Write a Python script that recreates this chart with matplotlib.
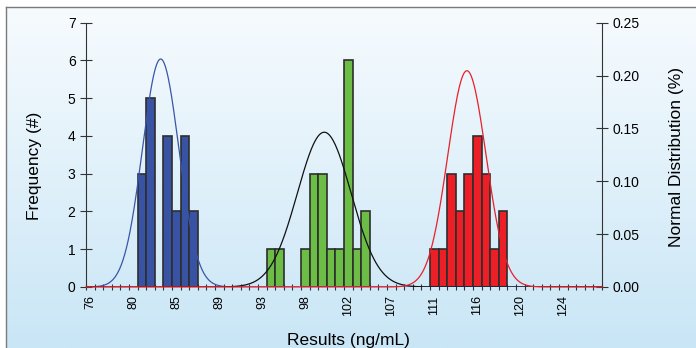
import numpy as np
import matplotlib
matplotlib.use('Agg')
import matplotlib.pyplot as plt
from matplotlib.colors import LinearSegmentedColormap
from matplotlib.lines import Line2D

plt.rcParams['font.family'] = ['Liberation Sans', 'DejaVu Sans']

# ---- data ----
bin_width = 48 / 55
first_bin = 76.0
n_bins = 60

blue_x = [81.24, 82.11, 83.85, 84.73, 85.60, 86.47]
blue_counts = [3, 5, 4, 2, 4, 2]
green_x = [94.33, 95.20, 97.82, 98.69, 99.56, 100.44, 101.31, 102.18, 103.05, 103.93]
green_counts = [1, 1, 1, 3, 3, 1, 1, 6, 1, 2]
red_x = [110.91, 111.78, 112.65, 113.53, 114.40, 115.27, 116.15, 117.02, 117.89]
red_counts = [1, 1, 3, 2, 3, 4, 3, 1, 2]

blue_mean, blue_sd = 83.14, 1.85
green_mean, green_sd = 99.74, 2.725
red_mean, red_sd = 114.22, 1.95

tick_labels = ['76', '80', '85', '89', '93', '98', '102', '107', '111', '116', '120', '124']

# ---- figure ----
W, H = 696, 348
fig = plt.figure(figsize=(W / 100, H / 100), dpi=100)

# gradient background inside frame
bg = fig.add_axes([6 / W, 0, 1 - 6 / W, 1 - 7 / H], zorder=-10)
cmap = LinearSegmentedColormap.from_list('bg', ['#f7fbfe', '#c9e6f6'])
grad = np.linspace(0, 1, 256).reshape(-1, 1)
bg.imshow(grad, aspect='auto', cmap=cmap, extent=[0, 1, 0, 1], origin='upper')
bg.axis('off')
fig.add_artist(Line2D([6 / W, 6 / W], [0, 1 - 7 / H], transform=fig.transFigure,
                      color='#7a7a7a', lw=1.0))
fig.add_artist(Line2D([6 / W, 1], [1 - 7 / H, 1 - 7 / H], transform=fig.transFigure,
                      color='#7a7a7a', lw=1.0))

left, right = 86 / W, 602 / W
bottom, top = (H - 287) / H, (H - 22.7) / H
ax = fig.add_axes([left, bottom, right - left, top - bottom])
ax.patch.set_alpha(0)
ax2 = ax.twinx()

edge = '#2e2e2e'
ax.bar(blue_x, blue_counts, width=bin_width, color='#3853a4', edgecolor=edge, linewidth=1.2, zorder=2)
ax.bar(green_x, green_counts, width=bin_width, color='#6cbd45', edgecolor=edge, linewidth=1.2, zorder=2)
ax.bar(red_x, red_counts, width=bin_width, color='#ec1f26', edgecolor=edge, linewidth=1.2, zorder=2)

xmin = first_bin - bin_width / 2
xmax = first_bin + (n_bins - 0.5) * bin_width
ax.set_xlim(xmin, xmax)
ax.set_ylim(0, 7)
ax2.set_ylim(0, 0.25)

xs = np.linspace(xmin, xmax, 1200)
def pdf(x, m, s):
    return np.exp(-0.5 * ((x - m) / s) ** 2) / (s * np.sqrt(2 * np.pi))

ax2.plot(xs, pdf(xs, blue_mean, blue_sd), color='#3a55a8', lw=0.9, zorder=3)
ax2.plot(xs, pdf(xs, green_mean, green_sd), color='#111111', lw=0.9, zorder=3)
ax2.plot(xs, pdf(xs, red_mean, red_sd), color='#e8202a', lw=0.9, zorder=4, clip_on=False)

# spines
for a in (ax, ax2):
    a.spines['top'].set_visible(False)
    a.spines['bottom'].set_visible(False)
    a.spines['left'].set_color('#333333')
    a.spines['right'].set_color('#333333')
ax2.spines['left'].set_visible(False)
ax.spines['right'].set_visible(False)

# x ticks: edges as major ticks, labels at bin centers (minor)
edges = xmin + np.arange(n_bins + 1) * bin_width
ax.set_xticks(edges)
ax.set_xticklabels([])
label_pos = first_bin + np.arange(len(tick_labels)) * 5 * bin_width
ax.set_xticks(label_pos, minor=True)
ax.set_xticklabels(tick_labels, minor=True, rotation=90, fontsize=9)
ax.tick_params(axis='x', which='major', direction='inout', length=5, width=0.8, color='#333333')
ax.tick_params(axis='x', which='minor', length=0, pad=6)

ax.set_yticks(range(0, 8))
ax.tick_params(axis='y', direction='inout', length=9, width=0.8, color='#333333', labelsize=10, pad=3)
ax2.set_yticks([0, 0.05, 0.10, 0.15, 0.20, 0.25])
ax2.set_yticklabels(['0.00', '0.05', '0.10', '0.15', '0.20', '0.25'])
ax2.tick_params(axis='y', direction='inout', length=9, width=0.8, color='#333333', labelsize=10, pad=3)

ax.set_ylabel('Frequency (#)', fontsize=12.5)
ax.yaxis.set_label_coords(-0.085, 0.46)
ax2.set_ylabel('Normal Distribution (%)', fontsize=12.5)
ax2.yaxis.set_label_coords(1.13, 0.49)
ax.set_xlabel('Results (ng/mL)', fontsize=12.5)
ax.xaxis.set_label_coords(0.508, -0.175)

fig.savefig('out.png', dpi=100)
